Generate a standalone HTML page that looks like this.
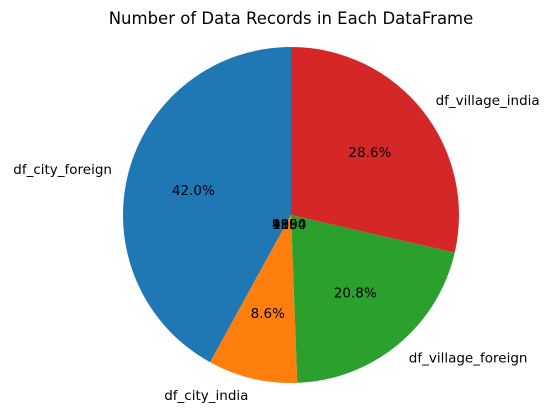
<!DOCTYPE html>
<html><head><meta charset="utf-8"><style>body{margin:0;background:#fff}svg{display:block;font-family:"DejaVu Sans","Liberation Sans",sans-serif}</style></head>
<body>
<svg id="chart" width="553" height="413">
<text x="291" y="24" text-anchor="middle" font-size="16.5">Number of Data Records in Each DataFrame</text>
<g id="slices"></g><g id="labels"></g>
</svg>
<script>
const categories = ["df_city_foreign","df_city_india","df_village_foreign","df_village_india"];
const values = [42.0, 8.6, 20.8, 28.6];
const counts = ["1990","410","985","1354"];
const colors = ["#1f77b4","#ff7f0e","#2ca02c","#d62728"];
const cx=291, cy=215, r=168;
const ns="http://www.w3.org/2000/svg";
const total=values.reduce((a,b)=>a+b,0);
let a=90;
const gs=document.getElementById('slices'), gl=document.getElementById('labels');
function pt(deg,rr){const t=deg*Math.PI/180;return [cx+rr*Math.cos(t), cy-rr*Math.sin(t)];}
values.forEach((v,i)=>{
  const sweep=v/total*360, a2=a+sweep;
  const [x1,y1]=pt(a,r),[x2,y2]=pt(a2,r);
  const p=document.createElementNS(ns,'path');
  p.setAttribute('d',`M${cx},${cy}L${x1},${y1}A${r},${r} 0 ${sweep>180?1:0} 0 ${x2},${y2}Z`);
  p.setAttribute('fill',colors[i]);
  
  
  gs.appendChild(p);
  const mid=(a+a2)/2;
  const [lx,ly]=pt(mid,r*1.1);
  const t=document.createElementNS(ns,'text');
  t.setAttribute('x',lx);t.setAttribute('y',ly+5);t.setAttribute('font-size','13.5');
  t.setAttribute('text-anchor',Math.cos(mid*Math.PI/180)<0?'end':'start');
  t.textContent=categories[i];
  
  
  gl.appendChild(t);
  const [px,py]=pt(mid,r*0.6);
  const q=document.createElementNS(ns,'text');
  q.setAttribute('x',px);q.setAttribute('y',py+5);q.setAttribute('font-size','13.5');q.setAttribute('text-anchor','middle');
  q.textContent=v.toFixed(1)+'%';
  
  
  gl.appendChild(q);
  const c=document.createElementNS(ns,'text');
  c.setAttribute('x',cx-19);c.setAttribute('y',cy+14);c.setAttribute('font-size','13.5');
  c.textContent=counts[i];
  
  
  gl.appendChild(c);
  a=a2;
});
</script>
</body></html>
